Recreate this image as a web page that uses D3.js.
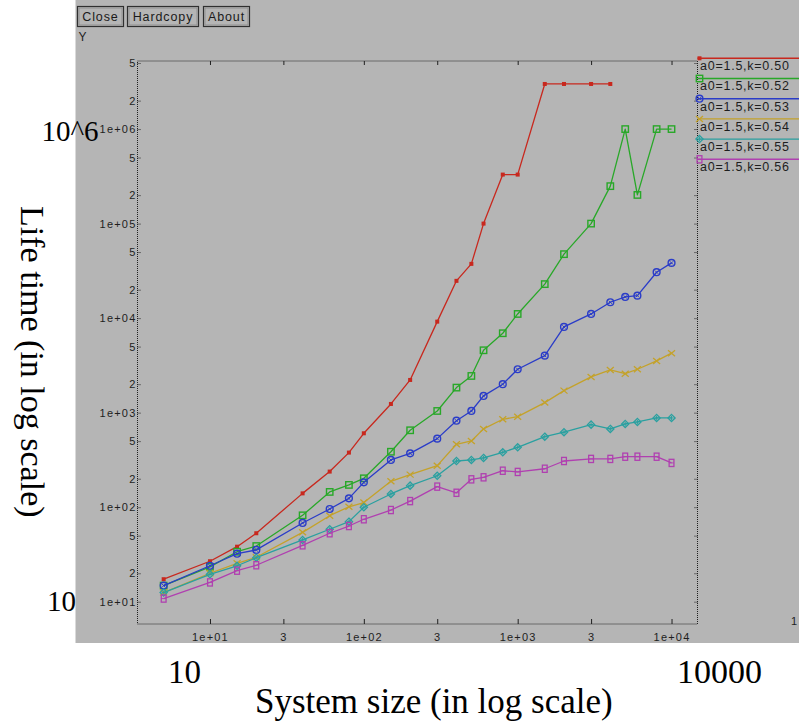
<!DOCTYPE html>
<html><head><meta charset="utf-8">
<script src="https://cdn.jsdelivr.net/npm/d3@7"></script>
<style>body{margin:0;background:#fff;} svg{display:block;}</style>
</head><body><svg id="c" width="799" height="722"></svg>
<script>
// ---------- data ----------
const sizes = [5,10,15,20,40,60,80,100,150,200,300,400,500,600,800,1000,1500,2000,3000,4000,5000,6000,8000,10000];
const seriesNames = ["a0=1.5,k=0.50","a0=1.5,k=0.52","a0=1.5,k=0.53","a0=1.5,k=0.54","a0=1.5,k=0.55","a0=1.5,k=0.56"];
const k050 = [17.3,26.8,38.2,53,140,238,378,605,1236,2218,9180,24800,37500,100000,330000,330000,3000000,3000000,3000000,3000000,null,null,null,null];
const k052 = [14.8,23.4,33.8,38.8,82,145,172,202,386,651,1042,1841,2445,4570,6920,11070,22900,47500,100000,249000,1000000,201000,1000000,1000000];
const k053 = [14.8,24.0,32.2,35.3,68.1,95.7,124,183,316,371,531,822,1042,1503,2000,2878,4009,8070,11075,14720,16750,17300,30600,38400];
const k054 = [12.5,20.0,25.5,29.5,54.2,81.3,101,112,188,221,275,463,502,673,851,907,1277,1710,2388,2831,2587,2878,3524,4257];
const k055 = [12.5,19.5,24.0,29.2,45,58.4,70.3,99.8,138,169,215,308,316,332,381,430,557,621,747,673,759,797,879,879];
const k056 = [10.8,16.0,21.3,24.3,39.5,53,63.2,74.5,93.3,116,165,142,197,207,243,236,255,308,324,324,342,342,342,294];
const seriesValues = [k050,k052,k053,k054,k055,k056];
const seriesColors = ["#c8281e","#28a828","#2a3cc8","#c4a22a","#2aa0a0","#b040b0"];
const seriesMarkers = ["fsquare","square","ocircle","cross","diamond","rect"];
const xTickValues = [10,30,100,300,1000,3000,10000];
const xTickLabels = ["1e+01","3","1e+02","3","1e+03","3","1e+04"];
const yTickValues = [10,20,50,100,200,500,1e3,2e3,5e3,1e4,2e4,5e4,1e5,2e5,5e5,1e6,2e6,5e6];
const yTickLabels = ["1e+01","2","5","1e+02","2","5","1e+03","2","5","1e+04","2","5","1e+05","2","5","1e+06","2","5"];
const buttons = ["Close","Hardcopy","About"];

// ---------- layout ----------
const svg = d3.select("#c");
const L = 137.5, R = 697.5, T = 61, B = 624;
svg.append("rect").attr("x",75.5).attr("y",0).attr("width",724).attr("height",643).attr("fill","#b5b5b5");

const x = d3.scaleLog().domain([3.38,14750]).range([L,R]);
const y = d3.scaleLog().domain([5.81,5.25e6]).range([B,T]);

const smallFont = "'Liberation Sans', Arial, Helvetica, sans-serif";

// buttons
const bx = [[77.5,123.5],[127.5,198.5],[203.5,249.5]];
buttons.forEach((b,i)=>{
  const g = svg.append("g");
  g.append("rect").attr("x",bx[i][0]).attr("y",6.5).attr("width",bx[i][1]-bx[i][0]).attr("height",20)
    .attr("fill","#b5b5b5").attr("stroke","#303030").attr("stroke-width",1.2);
  g.append("rect").attr("x",bx[i][0]+1.5).attr("y",8).attr("width",bx[i][1]-bx[i][0]-3).attr("height",17)
    .attr("fill","none").attr("stroke","#8a8a8a").attr("stroke-width",0.8);
  g.append("text").attr("x",(bx[i][0]+bx[i][1])/2).attr("y",21).attr("text-anchor","middle")
    .attr("font-family",smallFont).attr("font-size",12.5).attr("letter-spacing",0.9).attr("fill","#1a1a1a").text(b);
});
svg.append("text").attr("x",78.5).attr("y",41).attr("font-family",smallFont).attr("font-size",12).attr("fill","#222").text("Y");

// frame
svg.append("rect").attr("x",L).attr("y",T).attr("width",R-L).attr("height",B-T)
  .attr("fill","none").attr("stroke","#202020").attr("stroke-width",1).attr("stroke-dasharray","1,1");

function styleAxis(g, dotted){
  g.select(".domain").remove();
  g.selectAll(".tick line").attr("stroke","#202020").attr("stroke-width",1)
    .attr("stroke-dasharray", dotted ? "1,1" : null);
  g.selectAll(".tick text").attr("font-family",smallFont).attr("font-size",11)
    .attr("letter-spacing",1.2).attr("fill","#1e1e1e");
}
const gl = svg.append("g").attr("transform",`translate(${L},0)`)
  .call(d3.axisLeft(y).tickValues(yTickValues).tickFormat((d,i)=>yTickLabels[i]).tickSizeInner(-4).tickSizeOuter(0).tickPadding(1));
styleAxis(gl,true);
const gr = svg.append("g").attr("transform",`translate(${R},0)`)
  .call(d3.axisRight(y).tickValues(yTickValues).tickFormat("").tickSizeInner(-4).tickSizeOuter(0));
styleAxis(gr,true);
const gb = svg.append("g").attr("transform",`translate(0,${B})`)
  .call(d3.axisBottom(x).tickValues(xTickValues).tickFormat((d,i)=>xTickLabels[i]).tickSizeInner(-5).tickSizeOuter(0).tickPadding(9));
styleAxis(gb,false);
const gt = svg.append("g").attr("transform",`translate(0,${T})`)
  .call(d3.axisTop(x).tickValues(xTickValues).tickFormat("").tickSizeInner(-4).tickSizeOuter(0));
styleAxis(gt,false);
svg.append("text").attr("x",791).attr("y",625).attr("font-family",smallFont).attr("font-size",11).attr("fill","#1e1e1e").text("1");

// markers
function marker(g, kind, color, cx, cy){
  const s = g.append("g").attr("transform",`translate(${cx},${cy})`);
  if(kind==="fsquare"){
    s.append("rect").attr("x",-2).attr("y",-2).attr("width",4).attr("height",4).attr("fill",color);
  } else if(kind==="square"){
    s.append("rect").attr("x",-3.2).attr("y",-3.2).attr("width",6.4).attr("height",6.4).attr("fill","none").attr("stroke",color).attr("stroke-width",1.4);
  } else if(kind==="ocircle"){
    s.append("circle").attr("r",3.4).attr("fill","none").attr("stroke",color).attr("stroke-width",1.4);
    s.append("path").attr("d","M-1.6,-1.6L1.6,1.6M-1.6,1.6L1.6,-1.6").attr("stroke",color).attr("stroke-width",1);
  } else if(kind==="cross"){
    s.append("path").attr("d","M-3.5,-3L3.5,3M-3.5,3L3.5,-3").attr("stroke",color).attr("stroke-width",1.3);
  } else if(kind==="diamond"){
    s.append("path").attr("d","M0,-3.6L3.6,0L0,3.6L-3.6,0Z").attr("fill","none").attr("stroke",color).attr("stroke-width",1.3);
    s.append("path").attr("d","M0,-2L0,2M-2,0L2,0").attr("stroke",color).attr("stroke-width",1);
  } else if(kind==="rect"){
    s.append("rect").attr("x",-2.4).attr("y",-3.6).attr("width",4.8).attr("height",7.2).attr("fill","none").attr("stroke",color).attr("stroke-width",1.3);
    s.append("path").attr("d","M-2.4,0L2.4,0").attr("stroke",color).attr("stroke-width",0.9);
  }
}

// series
const line = d3.line().defined(d=>d.v!=null).x(d=>x(d.s)).y(d=>y(d.v));
seriesValues.forEach((vals,i)=>{
  const data = sizes.map((s,j)=>({s, v: vals[j]}));
  const g = svg.append("g");
  g.append("path").datum(data).attr("d",line).attr("fill","none")
    .attr("stroke",seriesColors[i]).attr("stroke-width",1.3).attr("stroke-linejoin","round");
  data.filter(d=>d.v!=null).forEach(d=>marker(g, seriesMarkers[i], seriesColors[i], x(d.s), y(d.v)));
});

// legend
seriesNames.forEach((n,i)=>{
  const ly = 58.3 + i*20.2;
  const g = svg.append("g");
  g.append("line").attr("x1",R).attr("x2",799).attr("y1",ly).attr("y2",ly).attr("stroke",seriesColors[i]).attr("stroke-width",1.4);
  marker(g, seriesMarkers[i], seriesColors[i], 699.5, ly);
  g.append("text").attr("x",700).attr("y",ly+11.9).attr("font-family",smallFont).attr("font-size",12.5)
    .attr("letter-spacing",0.75).attr("fill","#1e1e1e").text(n);
});

// big overlay labels
const serif = "'Liberation Serif', 'Times New Roman', Times, serif";
function big(t, xx, yy, fs){
  return svg.append("text").attr("x",xx).attr("y",yy).attr("font-family",serif).attr("font-size",fs).attr("fill","#000").text(t);
}
big("10^6", 41.5, 140.5, 29);
big("10", 47, 611, 29);
big("10", 168, 683, 33);
big("10000", 677, 683, 34);
big("System size (in log scale)", 255, 713, 35);
svg.append("text").attr("transform","translate(21,206) rotate(90)").attr("font-family",serif).attr("font-size",34)
  .attr("fill","#000").text("Life time (in log scale)");
</script>
</body></html>
